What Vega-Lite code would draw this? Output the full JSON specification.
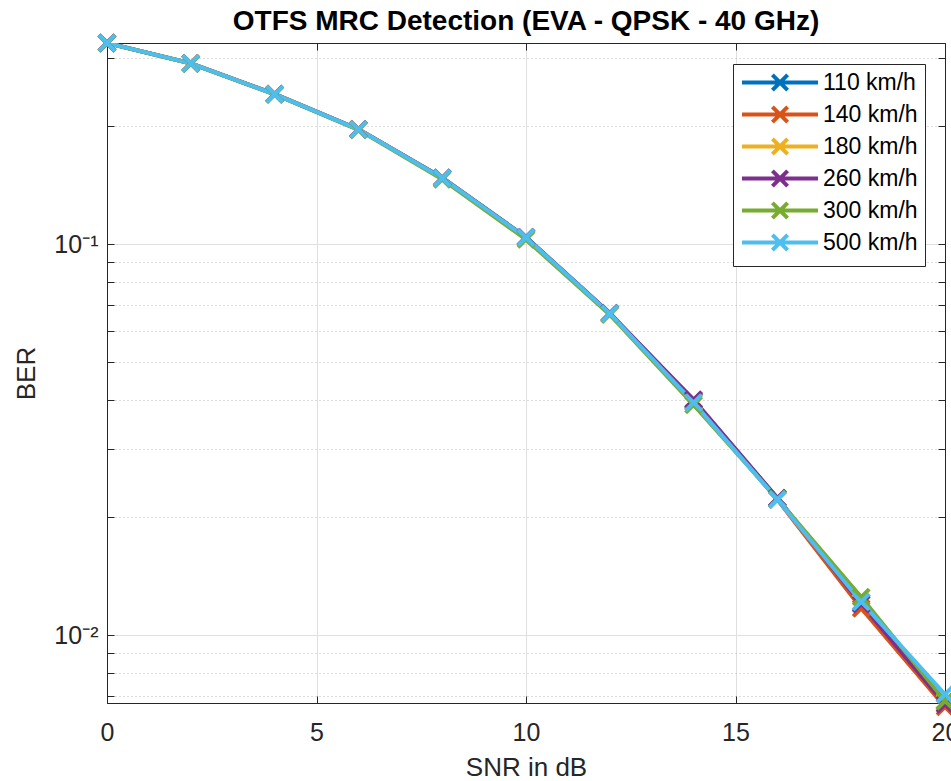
{
  "$schema": "https://vega.github.io/schema/vega-lite/v6.json",
  "width": 838,
  "height": 660,
  "autosize": {"type": "none"},
  "padding": {"left": 107, "top": 43, "right": 6, "bottom": 78},
  "background": "white",
  "title": {"text": "OTFS MRC Detection (EVA - QPSK - 40 GHz)", "font": "Liberation Sans", "fontSize": 28, "fontWeight": "bold", "color": "#000000", "anchor": "middle", "frame": "group", "offset": -9},
  "config": {
    "view": {"stroke": "#262626", "strokeWidth": 1},
    "axis": {"domainColor": "#262626", "tickColor": "#262626", "labelColor": "#262626", "titleColor": "#262626", "labelFont": "Liberation Sans", "titleFont": "Liberation Sans", "titleFontWeight": "normal"}
  },
  "data": {"values": [
    {"speed": "110 km/h", "snr": 0, "ber": 0.327},
    {"speed": "110 km/h", "snr": 2, "ber": 0.290},
    {"speed": "110 km/h", "snr": 4, "ber": 0.242},
    {"speed": "110 km/h", "snr": 6, "ber": 0.1966},
    {"speed": "110 km/h", "snr": 8, "ber": 0.1478},
    {"speed": "110 km/h", "snr": 10, "ber": 0.1042},
    {"speed": "110 km/h", "snr": 12, "ber": 0.0666},
    {"speed": "110 km/h", "snr": 14, "ber": 0.0398},
    {"speed": "110 km/h", "snr": 16, "ber": 0.0224},
    {"speed": "110 km/h", "snr": 18, "ber": 0.0121},
    {"speed": "110 km/h", "snr": 20, "ber": 0.00675},
    {"speed": "140 km/h", "snr": 0, "ber": 0.327},
    {"speed": "140 km/h", "snr": 2, "ber": 0.290},
    {"speed": "140 km/h", "snr": 4, "ber": 0.2422},
    {"speed": "140 km/h", "snr": 6, "ber": 0.1968},
    {"speed": "140 km/h", "snr": 8, "ber": 0.1478},
    {"speed": "140 km/h", "snr": 10, "ber": 0.1040},
    {"speed": "140 km/h", "snr": 12, "ber": 0.0664},
    {"speed": "140 km/h", "snr": 14, "ber": 0.0396},
    {"speed": "140 km/h", "snr": 16, "ber": 0.0222},
    {"speed": "140 km/h", "snr": 18, "ber": 0.0117},
    {"speed": "140 km/h", "snr": 20, "ber": 0.00655},
    {"speed": "180 km/h", "snr": 0, "ber": 0.327},
    {"speed": "180 km/h", "snr": 2, "ber": 0.2902},
    {"speed": "180 km/h", "snr": 4, "ber": 0.242},
    {"speed": "180 km/h", "snr": 6, "ber": 0.1966},
    {"speed": "180 km/h", "snr": 8, "ber": 0.1474},
    {"speed": "180 km/h", "snr": 10, "ber": 0.1036},
    {"speed": "180 km/h", "snr": 12, "ber": 0.0663},
    {"speed": "180 km/h", "snr": 14, "ber": 0.0394},
    {"speed": "180 km/h", "snr": 16, "ber": 0.0223},
    {"speed": "180 km/h", "snr": 18, "ber": 0.0121},
    {"speed": "180 km/h", "snr": 20, "ber": 0.00672},
    {"speed": "260 km/h", "snr": 0, "ber": 0.327},
    {"speed": "260 km/h", "snr": 2, "ber": 0.290},
    {"speed": "260 km/h", "snr": 4, "ber": 0.242},
    {"speed": "260 km/h", "snr": 6, "ber": 0.1966},
    {"speed": "260 km/h", "snr": 8, "ber": 0.1476},
    {"speed": "260 km/h", "snr": 10, "ber": 0.1040},
    {"speed": "260 km/h", "snr": 12, "ber": 0.0665},
    {"speed": "260 km/h", "snr": 14, "ber": 0.0400},
    {"speed": "260 km/h", "snr": 16, "ber": 0.0224},
    {"speed": "260 km/h", "snr": 18, "ber": 0.0120},
    {"speed": "260 km/h", "snr": 20, "ber": 0.00665},
    {"speed": "300 km/h", "snr": 0, "ber": 0.3268},
    {"speed": "300 km/h", "snr": 2, "ber": 0.2898},
    {"speed": "300 km/h", "snr": 4, "ber": 0.2415},
    {"speed": "300 km/h", "snr": 6, "ber": 0.1960},
    {"speed": "300 km/h", "snr": 8, "ber": 0.1465},
    {"speed": "300 km/h", "snr": 10, "ber": 0.1028},
    {"speed": "300 km/h", "snr": 12, "ber": 0.0660},
    {"speed": "300 km/h", "snr": 14, "ber": 0.0388},
    {"speed": "300 km/h", "snr": 16, "ber": 0.0223},
    {"speed": "300 km/h", "snr": 18, "ber": 0.0125},
    {"speed": "300 km/h", "snr": 20, "ber": 0.00678},
    {"speed": "500 km/h", "snr": 0, "ber": 0.327},
    {"speed": "500 km/h", "snr": 2, "ber": 0.290},
    {"speed": "500 km/h", "snr": 4, "ber": 0.242},
    {"speed": "500 km/h", "snr": 6, "ber": 0.1966},
    {"speed": "500 km/h", "snr": 8, "ber": 0.1476},
    {"speed": "500 km/h", "snr": 10, "ber": 0.1040},
    {"speed": "500 km/h", "snr": 12, "ber": 0.0664},
    {"speed": "500 km/h", "snr": 14, "ber": 0.0393},
    {"speed": "500 km/h", "snr": 16, "ber": 0.0222},
    {"speed": "500 km/h", "snr": 18, "ber": 0.01215},
    {"speed": "500 km/h", "snr": 20, "ber": 0.00705}
  ]},
  "layer": [
    {
      "mark": {"type": "line", "strokeWidth": 4, "clip": true},
      "encoding": {
        "x": {"field": "snr", "type": "quantitative", "scale": {"domain": [0, 20], "nice": false, "zero": false},
          "axis": {"values": [0, 5, 10, 15, 20], "title": "SNR in dB", "labelFontSize": 25, "titleFontSize": 26, "tickSize": -7, "labelPadding": 24, "labelFlush": false, "labelOverlap": false, "gridColor": "#dfdfdf", "gridWidth": 1, "titlePadding": 9}},
        "y": {"field": "ber", "type": "quantitative", "scale": {"type": "log", "domain": [0.0067, 0.327], "nice": false},
          "axis": {"values": [0.007, 0.008, 0.009, 0.01, 0.02, 0.03, 0.04, 0.05, 0.06, 0.07, 0.08, 0.09, 0.1, 0.2, 0.3],
            "labelExpr": "datum.value == 0.1 ? '10⁻¹' : (datum.value == 0.01 ? '10⁻²' : '')",
            "title": "BER", "labelFontSize": 25, "titleFontSize": 26, "tickSize": -7, "labelPadding": 16, "labelOverlap": false, "titlePadding": 14,
            "gridDash": {"condition": {"test": "datum.value == 0.1 || datum.value == 0.01", "value": []}, "value": [1, 3]},
            "gridColor": {"condition": {"test": "datum.value == 0.1 || datum.value == 0.01", "value": "#dfdfdf"}, "value": "#b8b8b8"}}},
        "color": {"field": "speed", "type": "nominal",
          "scale": {"domain": ["110 km/h", "140 km/h", "180 km/h", "260 km/h", "300 km/h", "500 km/h"], "range": ["#0072BD", "#D95319", "#EDB120", "#7E2F8E", "#77AC30", "#4DBEEE"]},
          "legend": {"orient": "none", "legendX": 626, "legendY": 21, "title": null, "symbolType": "M-1,0H7M2.2,-0.8L3.8,0.8M2.2,0.8L3.8,-0.8", "symbolSize": 361, "symbolStrokeWidth": 4, "symbolFillColor": "transparent", "symbolOpacity": 1, "labelFont": "Liberation Sans", "labelFontSize": 23, "labelColor": "#000000", "labelOffset": 60, "rowPadding": -1, "padding": 7, "strokeColor": "#262626", "fillColor": "white"}}
      }
    },
    {
      "mark": {"type": "point", "shape": "M-1,-1L1,1M-1,1L1,-1", "filled": false, "strokeWidth": 4, "size": 256, "opacity": 1},
      "encoding": {
        "x": {"field": "snr", "type": "quantitative",
          "axis": {"orient": "top", "values": [0, 5, 10, 15, 20], "labels": false, "grid": false, "title": null, "tickSize": -7}},
        "y": {"field": "ber", "type": "quantitative",
          "axis": {"orient": "right", "values": [0.007, 0.008, 0.009, 0.01, 0.02, 0.03, 0.04, 0.05, 0.06, 0.07, 0.08, 0.09, 0.1, 0.2, 0.3], "labels": false, "grid": false, "title": null, "tickSize": -7}},
        "color": {"field": "speed", "type": "nominal",
          "legend": {"orient": "none", "legendX": 626, "legendY": 21, "title": null, "symbolType": "M-1,0H7M2.2,-0.8L3.8,0.8M2.2,0.8L3.8,-0.8", "symbolSize": 361, "symbolStrokeWidth": 4, "symbolFillColor": "transparent", "symbolOpacity": 1, "labelFont": "Liberation Sans", "labelFontSize": 23, "labelColor": "#000000", "labelOffset": 60, "rowPadding": -1, "padding": 7, "strokeColor": "#262626", "fillColor": "white"}}
      }
    }
  ],
  "resolve": {"axis": {"x": "independent", "y": "independent"}}
}
